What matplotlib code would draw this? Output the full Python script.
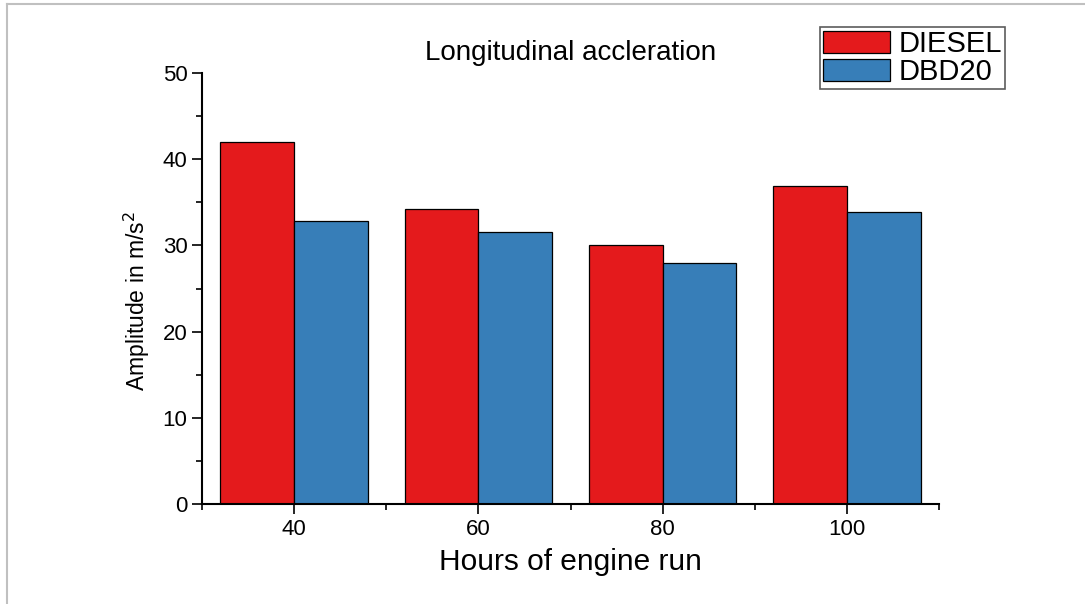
import matplotlib
matplotlib.use('Agg')

import matplotlib.pyplot as plt
import numpy as np
from matplotlib.lines import Line2D
from matplotlib.ticker import MultipleLocator

plt.rcParams['font.family'] = ['Liberation Sans', 'DejaVu Sans']

# Engine run hours and measured amplitudes
hours = [40, 60, 80, 100]
diesel = [42.0, 34.2, 30.0, 36.9]
dbd20 = [32.8, 31.5, 28.0, 33.9]
series_labels = ['DIESEL', 'DBD20']

bar_w = 8
red = '#E41A1C'
blue = '#377EB8'

fig = plt.figure(figsize=(10.85, 6.04), dpi=100)
ax = fig.add_axes([202 / 1085, 1 - 504 / 604, 737 / 1085, 431 / 604])

x = np.array(hours, dtype=float)
ax.bar(x - bar_w / 2, diesel, width=bar_w, color=red, edgecolor='black',
       linewidth=0.9, label=series_labels[0])
ax.bar(x + bar_w / 2, dbd20, width=bar_w, color=blue, edgecolor='black',
       linewidth=0.9, label=series_labels[1])

ax.set_xlim(30, 110)
ax.set_ylim(0, 50)
ax.set_xticks(hours)
ax.xaxis.set_minor_locator(MultipleLocator(10))
ax.yaxis.set_major_locator(MultipleLocator(10))
ax.yaxis.set_minor_locator(MultipleLocator(5))

for side in ['top', 'right']:
    ax.spines[side].set_visible(False)
for side in ['left', 'bottom']:
    ax.spines[side].set_linewidth(1.5)

ax.tick_params(which='major', direction='out', length=7, width=1.2, labelsize=16)
ax.tick_params(which='minor', direction='out', length=4, width=1.2)

ax.set_xlabel('Hours of engine run', fontsize=21.5, labelpad=6)
ax.set_ylabel('Amplitude in m/s$^2$', fontsize=16.5)
ax.yaxis.set_label_coords(-0.068, 0.47)
ax.set_title('Longitudinal accleration', fontsize=20, pad=9)

leg = ax.legend(loc='upper right', bbox_to_anchor=(1005 / 1085, 1 - 27 / 604),
                bbox_transform=fig.transFigure, fontsize=21, frameon=True,
                fancybox=False, handlelength=2.3, handleheight=0.8,
                handletextpad=0.3, borderpad=0.1, labelspacing=0.0,
                borderaxespad=0)
leg.get_frame().set_edgecolor('#333333')
leg.get_frame().set_linewidth(1.2)

# light gray frame along the top and left of the image
fig.add_artist(Line2D([7 / 1085, 1], [1 - 4 / 604, 1 - 4 / 604],
                      transform=fig.transFigure, color='#c0c0c0', linewidth=1.5))
fig.add_artist(Line2D([7 / 1085, 7 / 1085], [0, 1 - 4 / 604],
                      transform=fig.transFigure, color='#c0c0c0', linewidth=1.5))

fig.savefig('out.png', dpi=100, facecolor='white')
